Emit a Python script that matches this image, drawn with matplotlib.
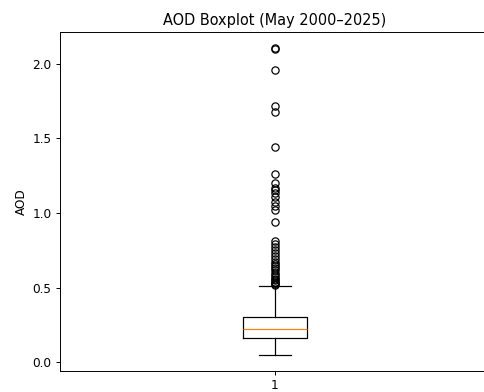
import matplotlib
matplotlib.use('Agg')
import matplotlib.pyplot as plt

# Box statistics
q1 = 0.160
median = 0.222
q3 = 0.303
whisker_low = 0.045
whisker_high = 0.511

# Outliers (AOD values above the upper whisker)
fliers = [2.10, 2.11, 1.96, 1.72, 1.68, 1.445, 1.26, 1.20, 1.17, 1.155, 1.135,
          1.11, 1.075, 1.045, 1.02, 0.94, 0.815, 0.79, 0.77, 0.75, 0.73, 0.71,
          0.69, 0.675, 0.66, 0.645, 0.63, 0.615, 0.60, 0.585, 0.57, 0.56,
          0.55, 0.54, 0.53, 0.525, 0.52]
box_labels = ['1']

stats = [{
    'label': box_labels[0],
    'q1': q1, 'med': median, 'q3': q3,
    'whislo': whisker_low, 'whishi': whisker_high,
    'fliers': fliers,
}]

# render at a lower dpi so text and lines come out a bit smaller
dpi = 87
fig = plt.figure(figsize=(484 / dpi, 392 / dpi), dpi=dpi)
ax = fig.add_axes([0.124, 0.054, 0.888, 0.864])
ax.bxp(stats, positions=[1], widths=0.15, showfliers=True)
ax.set_xlim(0.5, 1.5)
ax.set_title('AOD Boxplot (May 2000\u20132025)')
ax.set_ylabel('AOD')

fig.savefig('out.png', dpi=dpi)
